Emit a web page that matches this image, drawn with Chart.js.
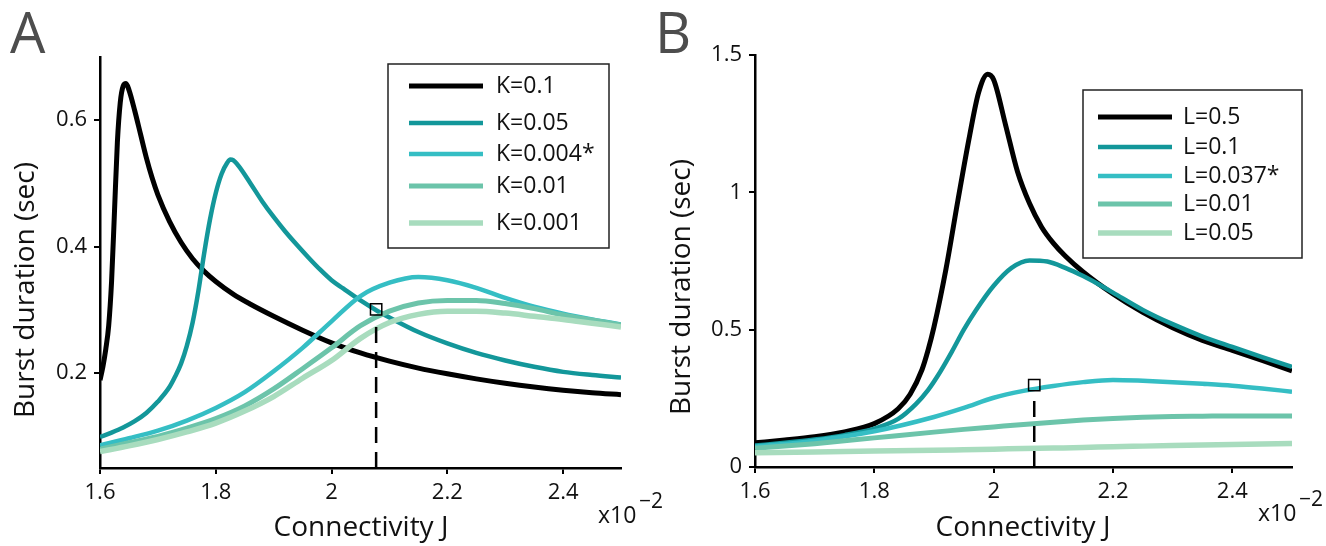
<!DOCTYPE html>
<html>
<head>
<meta charset="utf-8">
<script src="https://cdn.jsdelivr.net/npm/chart.js@4.4.1/dist/chart.umd.min.js"></script>
<style>
  body { margin: 0; background: #fff; }
  #wrap { position: relative; width: 1326px; height: 546px; overflow: hidden; }
  canvas { position: absolute; top: 0; }
</style>
</head>
<body>
<div id="wrap">
  <canvas id="chartA" width="663" height="546" style="left:0"></canvas>
  <canvas id="chartB" width="686" height="546" style="left:640px"></canvas>
</div>
<script>
const FONT = '"Open Sans", "Liberation Sans", sans-serif';

// ---- panel A : K sweep ----
const kLabels = ['K=0.1', 'K=0.05', 'K=0.004*', 'K=0.01', 'K=0.001'];
const jK1 = [1.60, 1.605, 1.61, 1.615, 1.62, 1.625, 1.63, 1.635, 1.64, 1.645, 1.65, 1.66, 1.67, 1.68, 1.69, 1.70, 1.72, 1.74, 1.76, 1.78, 1.80, 1.83, 1.86, 1.90, 1.95, 2.00, 2.05, 2.10, 2.15, 2.20, 2.25, 2.30, 2.35, 2.40, 2.45, 2.50];
const durK1 = [0.189, 0.21, 0.238, 0.275, 0.345, 0.455, 0.565, 0.628, 0.654, 0.658, 0.648, 0.615, 0.578, 0.541, 0.509, 0.482, 0.44, 0.407, 0.381, 0.361, 0.345, 0.325, 0.309, 0.29, 0.268, 0.248, 0.232, 0.219, 0.208, 0.199, 0.191, 0.184, 0.178, 0.173, 0.169, 0.166];
const jK2 = [1.60, 1.62, 1.64, 1.66, 1.68, 1.70, 1.72, 1.73, 1.74, 1.75, 1.76, 1.77, 1.78, 1.79, 1.80, 1.81, 1.82, 1.825, 1.83, 1.84, 1.86, 1.88, 1.90, 1.92, 1.94, 1.96, 1.98, 2.00, 2.02, 2.05, 2.08, 2.10, 2.15, 2.20, 2.25, 2.30, 2.35, 2.40, 2.45, 2.50];
const durK2 = [0.099, 0.106, 0.114, 0.124, 0.137, 0.155, 0.178, 0.195, 0.215, 0.243, 0.28, 0.33, 0.39, 0.443, 0.485, 0.515, 0.533, 0.538, 0.537, 0.527, 0.5, 0.472, 0.447, 0.424, 0.403, 0.383, 0.364, 0.347, 0.334, 0.315, 0.298, 0.288, 0.265, 0.247, 0.232, 0.22, 0.21, 0.202, 0.197, 0.193];
const jGridA = [1.60, 1.65, 1.70, 1.75, 1.80, 1.85, 1.90, 1.95, 2.00, 2.05, 2.10, 2.15, 2.20, 2.25, 2.30, 2.35, 2.40, 2.45, 2.50];
const durK3 = [0.086, 0.097, 0.109, 0.125, 0.145, 0.17, 0.203, 0.24, 0.282, 0.322, 0.343, 0.352, 0.347, 0.335, 0.319, 0.305, 0.294, 0.285, 0.277];
const durK4 = [0.080, 0.09, 0.1, 0.113, 0.128, 0.148, 0.175, 0.207, 0.240, 0.275, 0.298, 0.311, 0.315, 0.315, 0.31, 0.302, 0.292, 0.284, 0.276];
const durK5 = [0.076, 0.085, 0.095, 0.107, 0.121, 0.14, 0.163, 0.192, 0.22, 0.255, 0.28, 0.293, 0.298, 0.298, 0.295, 0.29, 0.285, 0.279, 0.273];
const markerA = [2.077, 0.301];
const dashA = [0.05, 0.286];

// ---- panel B : L sweep ----
const lLabels = ['L=0.5', 'L=0.1', 'L=0.037*', 'L=0.01', 'L=0.05'];
const jL1 = [1.60, 1.65, 1.70, 1.75, 1.80, 1.84, 1.86, 1.88, 1.89, 1.90, 1.92, 1.94, 1.96, 1.975, 1.99, 2.00, 2.02, 2.04, 2.06, 2.08, 2.10, 2.12, 2.15, 2.20, 2.25, 2.30, 2.35, 2.40, 2.45, 2.50];
const durL1 = [0.088, 0.098, 0.11, 0.128, 0.158, 0.212, 0.265, 0.355, 0.425, 0.51, 0.72, 0.97, 1.21, 1.365, 1.43, 1.41, 1.245, 1.075, 0.96, 0.875, 0.815, 0.768, 0.71, 0.63, 0.563, 0.507, 0.461, 0.425, 0.388, 0.35];
const jL2 = [1.60, 1.65, 1.70, 1.75, 1.80, 1.84, 1.87, 1.89, 1.91, 1.93, 1.95, 1.97, 2.00, 2.03, 2.06, 2.09, 2.12, 2.15, 2.18, 2.20, 2.25, 2.30, 2.35, 2.40, 2.45, 2.50];
const durL2 = [0.078, 0.088, 0.1, 0.116, 0.14, 0.175, 0.23, 0.28, 0.345, 0.42, 0.5, 0.57, 0.66, 0.725, 0.752, 0.748, 0.725, 0.695, 0.66, 0.635, 0.572, 0.52, 0.475, 0.437, 0.40, 0.365];
const jGridB = [1.60, 1.70, 1.80, 1.90, 1.95, 2.00, 2.05, 2.10, 2.15, 2.20, 2.25, 2.30, 2.35, 2.40, 2.45, 2.50];
const durL3 = [0.074, 0.096, 0.13, 0.182, 0.215, 0.252, 0.277, 0.295, 0.309, 0.317, 0.314, 0.309, 0.303, 0.296, 0.286, 0.274];
const durL4 = [0.068, 0.085, 0.106, 0.127, 0.137, 0.146, 0.155, 0.163, 0.171, 0.177, 0.181, 0.184, 0.185, 0.186, 0.186, 0.186];
const durL5 = [0.052, 0.055, 0.058, 0.061, 0.063, 0.065, 0.067, 0.069, 0.071, 0.074, 0.076, 0.078, 0.08, 0.082, 0.084, 0.086];
const markerB = [2.068, 0.298];
const dashB = [0, 0.27];

const xTicks = [1.6, 1.8, 2.0, 2.2, 2.4];
const yTicksA = [0.2, 0.4, 0.6];
const yTicksB = [0, 0.5, 1, 1.5];

const colors = ['#000000', '#13979a', '#35bec4', '#6cc4aa', '#a8dcbe'];
const widths = [5, 4.5, 4.5, 5, 5.5];

const pts = (xs, ys) => xs.map((x, i) => ({ x: x, y: ys[i] }));

function curves(labels, series) {
  return series.map((s, i) => ({
    label: labels[i],
    data: pts(s[0], s[1]),
    borderColor: colors[i],
    borderWidth: widths[i],
    pointRadius: 0,
    fill: false,
    cubicInterpolationMode: 'monotone',
    order: 10 - i, // later series on top, like matlab
  }));
}

function marker(m, d) {
  return [
    {
      data: [{ x: m[0], y: d[0] }, { x: m[0], y: d[1] }],
      borderColor: '#000', borderWidth: 2.5, borderDash: [16, 9],
      pointRadius: 0, fill: false, order: 1,
    },
    {
      data: [{ x: m[0], y: m[1] }],
      showLine: false, pointStyle: 'rect', pointRadius: 8,
      pointBorderColor: '#000', pointBorderWidth: 1.5,
      pointBackgroundColor: 'rgba(0,0,0,0)', order: 0,
    },
  ];
}

// text, titles and the boxed legend
const panelText = {
  id: 'panelText',
  afterDraw(chart, args, o) {
    const ctx = chart.ctx;
    ctx.save();
    ctx.fillStyle = '#4d4d4d';
    ctx.font = '56px ' + FONT;
    ctx.textAlign = 'left';
    ctx.textBaseline = 'alphabetic';
    ctx.fillText(o.letter, o.letterPos[0], o.letterPos[1]);

    ctx.fillStyle = '#111';
    ctx.font = '28px ' + FONT;
    ctx.textAlign = 'center';
    ctx.textBaseline = 'middle';
    ctx.fillText('Connectivity J', o.xTitle[0], o.xTitle[1]);
    ctx.save();
    ctx.translate(o.yTitle[0], o.yTitle[1]);
    ctx.rotate(-Math.PI / 2);
    ctx.fillText('Burst duration (sec)', 0, 0);
    ctx.restore();

    ctx.textAlign = 'left';
    ctx.font = '23px ' + FONT;
    ctx.fillText('x10', o.exp[0], o.exp[1]);
    ctx.font = '21px ' + FONT;
    ctx.fillText('\u22122', o.exp[0] + 41, o.exp[1] - 14);

    // legend box
    const b = o.box;
    ctx.fillStyle = '#fff';
    ctx.fillRect(b[0], b[1], b[2], b[3]);
    ctx.strokeStyle = '#222';
    ctx.lineWidth = 1.5;
    ctx.strokeRect(b[0], b[1], b[2], b[3]);
    const items = chart.data.datasets.filter((ds) => ds.label);
    ctx.font = '23px ' + FONT;
    items.forEach((ds, i) => {
      const y = o.rows[i];
      ctx.strokeStyle = ds.borderColor;
      ctx.lineWidth = ds.borderWidth;
      ctx.beginPath();
      ctx.moveTo(o.line[0], y);
      ctx.lineTo(o.line[1], y);
      ctx.stroke();
      ctx.fillStyle = '#111';
      ctx.fillText(ds.label, o.textX, y);
    });
    ctx.restore();
  },
};

function makeChart(id, datasets, yMin, yMax, yTicks, lay, textOpts) {
  return new Chart(id, {
    type: 'line',
    data: { datasets: datasets },
    options: {
      responsive: false,
      animation: false,
      events: [],
      layout: { padding: { left: 0, right: lay.right, top: lay.top, bottom: 0 } },
      scales: {
        x: {
          type: 'linear', min: 1.6, max: 2.5,
          afterFit: (s) => { s.height = lay.xH; },
          afterBuildTicks: (s) => { s.ticks = xTicks.map((v) => ({ value: v })); },
          ticks: {
            autoSkip: false, maxRotation: 0, padding: 6,
            color: '#111', font: { family: FONT, size: 22 },
            callback: (v) => String(+v.toFixed(1)),
          },
          grid: { drawOnChartArea: false, drawTicks: true, tickLength: 6, color: '#000', lineWidth: 2 },
          border: { display: true, color: '#000', width: 2.5 },
        },
        y: {
          type: 'linear', min: yMin, max: yMax,
          afterFit: (s) => { s.width = lay.yW; },
          afterBuildTicks: (s) => { s.ticks = yTicks.map((v) => ({ value: v })); },
          ticks: {
            autoSkip: false, padding: 7,
            color: '#111', font: { family: FONT, size: 22 },
            callback: (v) => String(+v.toFixed(1)),
          },
          grid: { drawOnChartArea: false, drawTicks: true, tickLength: 6, color: '#000', lineWidth: 2 },
          border: { display: true, color: '#000', width: 2.5 },
        },
      },
      plugins: {
        legend: { display: false },
        tooltip: { enabled: false },
        panelText: textOpts,
      },
    },
    plugins: [panelText],
  });
}

const dsA = curves(kLabels, [[jK1, durK1], [jK2, durK2], [jGridA, durK3], [jGridA, durK4], [jGridA, durK5]])
  .concat(marker(markerA, dashA));
const dsB = curves(lLabels, [[jL1, durL1], [jL2, durL2], [jGridB, durL3], [jGridB, durL4], [jGridB, durL5]])
  .concat(marker(markerB, dashB));

makeChart('chartA', dsA, 0.05, 0.7, yTicksA,
  { right: 42, top: 57, xH: 78, yW: 100 },
  {
    letter: 'A', letterPos: [10, 53], xTitle: [361, 528], yTitle: [26, 290], exp: [598, 516],
    box: [388, 64, 221, 184], rows: [86, 123, 154, 186, 223], line: [409, 483], textX: 496,
  });

makeChart('chartB', dsB, 0, 1.5, yTicksB,
  { right: 34, top: 55, xH: 79, yW: 115 },
  {
    letter: 'B', letterPos: [15, 53], xTitle: [383, 528], yTitle: [42, 287], exp: [618, 514],
    box: [443, 90, 219, 168], rows: [117, 147, 176, 204, 233], line: [458, 532], textX: 543,
  });
</script>
</body>
</html>
